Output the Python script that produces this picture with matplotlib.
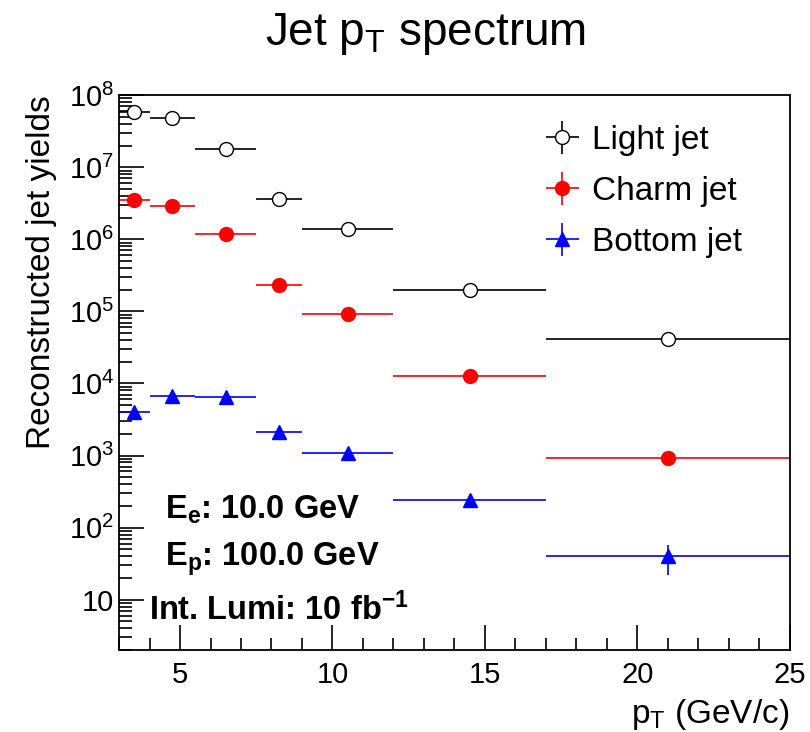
import numpy as np
import matplotlib
matplotlib.use("Agg")
import matplotlib.pyplot as plt
from matplotlib.ticker import FixedLocator, LogLocator, MultipleLocator, FuncFormatter

plt.rcParams['font.family'] = ['Liberation Sans', 'DejaVu Sans']
plt.rcParams['mathtext.fontset'] = 'custom'
plt.rcParams['mathtext.rm'] = 'Liberation Sans'
plt.rcParams['mathtext.it'] = 'Liberation Sans:italic'
plt.rcParams['mathtext.bf'] = 'Liberation Sans:bold'

# bin edges in pT (GeV/c)
bin_lo = [3.0, 4.0, 5.5, 7.5, 9.0, 12.0, 17.0]
bin_hi = [4.0, 5.5, 7.5, 9.0, 12.0, 17.0, 25.0]

# reconstructed yields
light_yield = [5.8e7, 4.8e7, 1.8e7, 3.6e6, 1.4e6, 2.0e5, 4.1e4]
charm_yield = [3.5e6, 2.9e6, 1.18e6, 2.3e5, 9.3e4, 1.25e4, 9.1e2]
bottom_yield = [4.0e3, 6.8e3, 6.4e3, 2.1e3, 1.07e3, 2.4e2, 40]
bottom_err = [0, 0, 0, 0, 0, 0, 18]

lo = np.array(bin_lo)
hi = np.array(bin_hi)
centre = 0.5 * (lo + hi)
half = 0.5 * (hi - lo)
zeros = np.zeros(len(centre))

fig = plt.figure(figsize=(8.1, 7.32), dpi=100)
ax = fig.add_axes([0.147, 0.112, 0.828, 0.758])

ax.errorbar(centre, light_yield, xerr=half, yerr=zeros, fmt='o', color='black',
            mfc='white', mec='black', ms=10, lw=1.2, capsize=0, label='Light jet')
ax.errorbar(centre, charm_yield, xerr=half, yerr=zeros, fmt='o', color='red',
            mfc='red', mec='red', ms=10, lw=1.2, capsize=0, label='Charm jet')
ax.errorbar(centre, bottom_yield, xerr=half, yerr=bottom_err, fmt='^', color='blue',
            mfc='blue', mec='blue', ms=10, lw=1.2, capsize=0, label='Bottom jet')

ax.set_yscale('log')
ax.set_xlim(3, 25)
ax.set_ylim(2, 1e8)

ax.xaxis.set_major_locator(MultipleLocator(5))
ax.xaxis.set_minor_locator(MultipleLocator(1))
ax.yaxis.set_major_locator(FixedLocator([10.0 ** k for k in range(1, 9)]))
ax.yaxis.set_minor_locator(LogLocator(base=10, subs=np.arange(2, 10)))


def ylab(v, pos):
    k = int(round(np.log10(v)))
    if k == 1:
        return '10'
    return r'$\mathregular{10^{%d}}$' % k


ax.yaxis.set_major_formatter(FuncFormatter(ylab))
ax.tick_params(which='both', direction='in', top=False, right=False, labelsize=21, width=1.2)
ax.tick_params(which='major', length=18)
ax.tick_params(which='minor', length=9)
ax.tick_params(axis='x', pad=8)
for s in ax.spines.values():
    s.set_linewidth(1.3)

ax.set_ylabel('Reconstructed jet yields', fontsize=24, loc='top')
ax.yaxis.set_label_coords(-0.093, 1.0)
ax.set_xlabel(r'$\mathregular{p_{T}}$ (GeV/c)', fontsize=24, loc='right')
ax.xaxis.set_label_coords(1.0, -0.085)

fig.text(0.525, 0.953, r'Jet $\mathregular{p_{T}}$ spectrum', fontsize=33, ha='center', va='center')

ax.text(0.068, 0.253, r'$\mathbf{E_{e}}$: 10.0 GeV', transform=ax.transAxes,
        fontsize=23.5, fontweight='bold', va='center')
ax.text(0.068, 0.163, r'$\mathbf{E_{p}}$: 100.0 GeV', transform=ax.transAxes,
        fontsize=23.5, fontweight='bold', va='center')
ax.text(0.045, 0.073, r'Int. Lumi: 10 fb$\mathbf{^{-1}}$', transform=ax.transAxes,
        fontsize=23.5, fontweight='bold', va='center')

ax.legend(loc='upper right', bbox_to_anchor=(0.974, 1.0), frameon=False, fontsize=24,
          handlelength=1.2, handletextpad=0.3, labelspacing=0.6)

fig.savefig('out.png', dpi=100)
